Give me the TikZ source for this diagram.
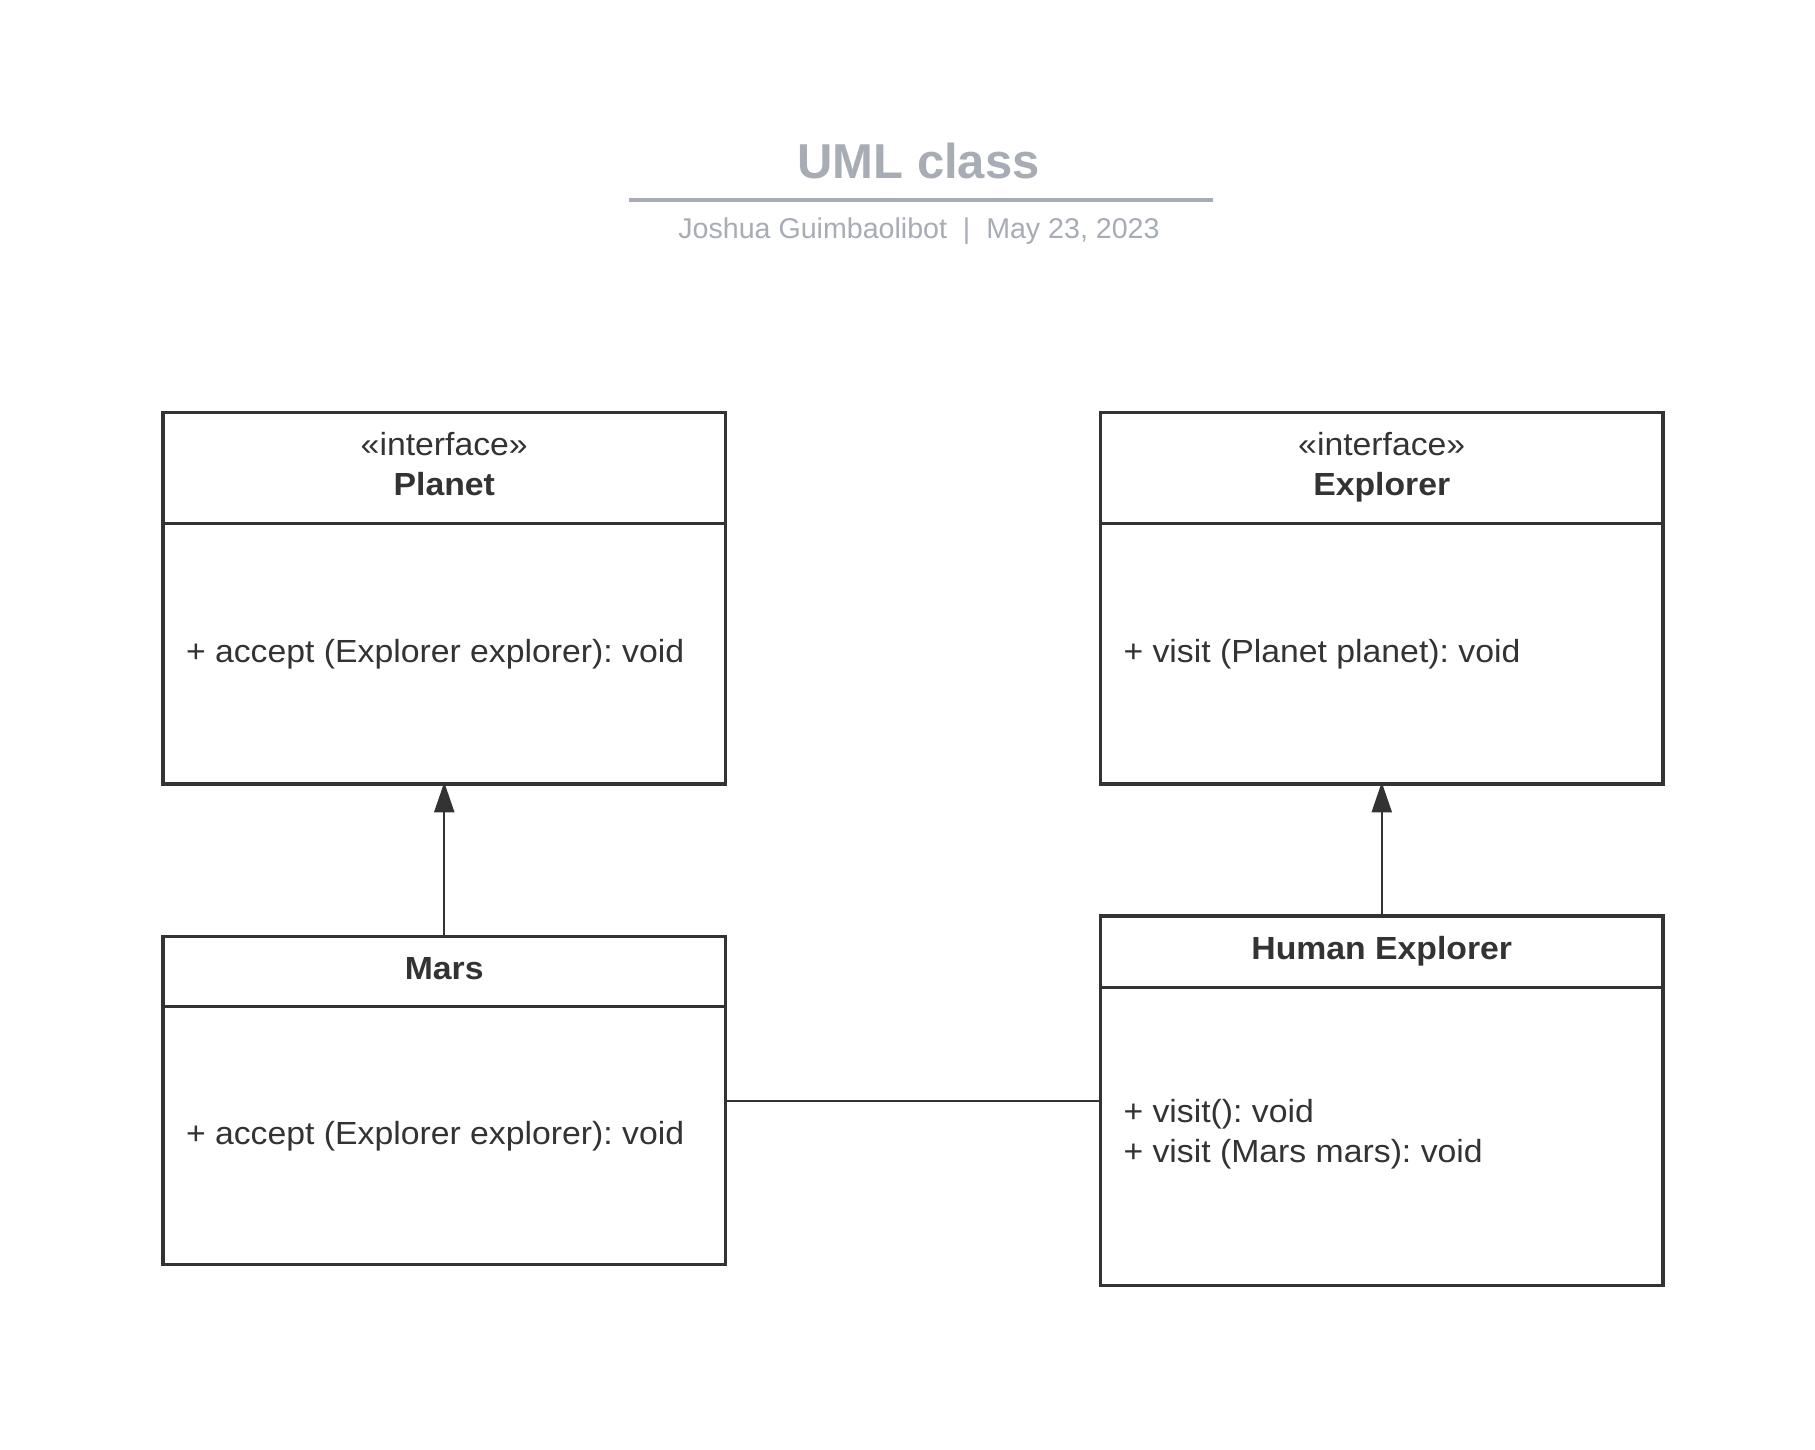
\documentclass[tikz,border=0pt]{standalone}
\usepackage{fontspec}
\setmainfont{Liberation Sans}
\newfontfamily\bodyfont{Liberation Sans}[FakeStretch=1.055]
\usetikzlibrary{arrows.meta,calc}
\definecolor{ink}{HTML}{333333}
\definecolor{titlegray}{HTML}{A7ACB5}
\frenchspacing
\begin{document}
\begin{tikzpicture}[x=1pt,y=-1pt,
  classbox/.style={draw=ink, line width=3.5pt, rectangle, inner sep=0pt, outer sep=0pt, minimum width=562.5pt, fill=white},
  divider/.style={draw=ink, line width=3pt},
  txt/.style={inner sep=0pt, outer sep=0pt, text=ink, font=\bodyfont\frenchspacing\fontsize{32}{38}\selectfont, anchor=base},
  lefttxt/.style={txt, anchor=base west},
  hdr/.style={txt, font=\bodyfont\frenchspacing\bfseries\fontsize{32}{38}\selectfont},
  titletxt/.style={inner sep=0pt, outer sep=0pt, text=titlegray, anchor=base, font=\bfseries\fontsize{49}{58}\selectfont},
  subtxt/.style={inner sep=0pt, outer sep=0pt, text=titlegray, anchor=base, font=\frenchspacing\fontsize{28.6}{34}\selectfont},
  realize/.style={draw=ink, line width=2pt, -{Triangle[length=30pt,width=20pt]}, shorten >=-1.75pt},
  assoc/.style={draw=ink, line width=2pt}
]
\path[fill=white] (0,0) rectangle (1815,1449);
\useasboundingbox (0,0) rectangle (1815,1449);

% title block
\node[titletxt] (title) at (918.5,178.3) {UML class};
\coordinate (ruleL) at (629,199.7);
\coordinate (ruleR) at (1213,199.7);
\draw[titlegray, line width=4pt] (ruleL) -- (ruleR);
\node[subtxt] (sub) at (919,238.3) {Joshua Guimbaolibot~~|~~May 23, 2023};

% class boxes
\node[classbox, minimum height=371.5pt] (planet) at (444.25,598.25) {};
\node[classbox, minimum height=371.5pt] (explorer) at (1381.75,598.25) {};
\node[classbox, minimum height=328pt] (mars) at (444.25,1100.7) {};
\node[classbox, minimum height=369.6pt] (human) at (1381.75,1100.8) {};

% dividers
\draw[divider] ($(planet.north west)+(0,111)$) -- ($(planet.north east)+(0,111)$);
\draw[divider] ($(explorer.north west)+(0,111)$) -- ($(explorer.north east)+(0,111)$);
\draw[divider] ($(mars.north west)+(0,70)$) -- ($(mars.north east)+(0,70)$);
\draw[divider] ($(human.north west)+(0,71)$) -- ($(human.north east)+(0,71)$);

% texts
\node[txt] (planetSt) at (444.25,455) {«interface»};
\node[hdr] (planetNm) at (444.25,495) {Planet};
\node[lefttxt] (planetOp) at (186,662) {+ accept (Explorer explorer): void};

\node[txt] (explorerSt) at (1381.75,455) {«interface»};
\node[hdr] (explorerNm) at (1381.75,495) {Explorer};
\node[lefttxt] (explorerOp) at (1123.5,662) {+ visit (Planet planet): void};

\node[hdr] (marsNm) at (444.25,979.3) {Mars};
\node[lefttxt] (marsOp) at (186,1144.3) {+ accept (Explorer explorer): void};

\node[hdr] (humanNm) at (1381.75,959.3) {Human Explorer};
\node[lefttxt] (humanOpA) at (1123.5,1122) {+ visit(): void};
\node[lefttxt] (humanOpB) at (1123.5,1162) {+ visit (Mars mars): void};

% connectors
\draw[realize] (mars.north) -- (planet.south);
\draw[realize] (human.north) -- (explorer.south);
\draw[assoc] (mars.east) -- (mars.east -| human.west);
\end{tikzpicture}
\end{document}
